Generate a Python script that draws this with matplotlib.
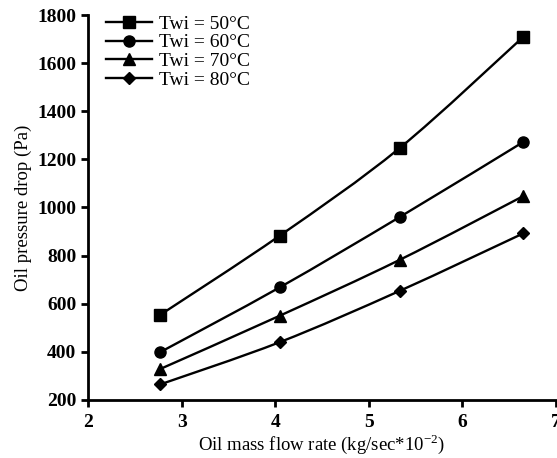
import numpy as np
import matplotlib.pyplot as plt
from matplotlib.path import Path
from matplotlib.patches import PathPatch

plt.rcParams['font.family'] = ['Liberation Serif', 'DejaVu Serif']

flow = [2.77, 4.05, 5.33, 6.65]
dp_50 = [553, 883, 1247, 1709]
dp_60 = [398, 668, 960, 1272]
dp_70 = [328, 550, 782, 1047]
dp_80 = [264, 440, 653, 892]

series = [('Twi = 50°C', dp_50, 's'),
          ('Twi = 60°C', dp_60, 'o'),
          ('Twi = 70°C', dp_70, '^'),
          ('Twi = 80°C', dp_80, 'D')]


def smooth_path(x, y):
    # Catmull-Rom segments written as cubic Bezier curves
    x = np.asarray(x, float)
    y = np.asarray(y, float)
    pts = np.column_stack([x, y])
    verts = [pts[0]]
    codes = [Path.MOVETO]
    n = len(pts)
    for i in range(n - 1):
        p0 = pts[i - 1] if i > 0 else pts[i]
        p1 = pts[i]
        p2 = pts[i + 1]
        p3 = pts[i + 2] if i + 2 < n else pts[i + 1]
        c1 = p1 + (p2 - p0) / 6.0
        c2 = p2 - (p3 - p1) / 6.0
        verts += [c1, c2, p2]
        codes += [Path.CURVE4] * 3
    return Path(verts, codes)


fig = plt.figure(figsize=(5.57, 4.58), dpi=100)
ax = fig.add_axes([0.158, 0.127, 0.84, 0.84])

for label, vals, mk in series:
    ax.add_patch(PathPatch(smooth_path(flow, vals), facecolor='none',
                           edgecolor='black', lw=1.7))
    ms = 6.5 if mk == 'D' else 8
    ax.plot(flow, vals, linestyle='none', marker=mk, color='black', ms=ms)
    # legend handle: line with marker
    ax.plot([], [], '-', marker=mk, color='black', lw=1.7, ms=ms, label=label)

ax.set_xlim(2, 7)
ax.set_ylim(200, 1800)
ax.set_xticks([2, 3, 4, 5, 6, 7])
ax.set_yticks(range(200, 1801, 200))
for s in ['top', 'right']:
    ax.spines[s].set_visible(False)
for s in ['left', 'bottom']:
    ax.spines[s].set_linewidth(2)
ax.tick_params(direction='out', width=2, length=5, labelsize=14)
ax.tick_params(axis='x', pad=5)
for t in ax.get_xticklabels() + ax.get_yticklabels():
    t.set_fontweight('bold')

ax.set_xlabel('Oil mass flow rate (kg/sec*10$^{\\mathregular{-2}}$)',
              fontsize=13.5, labelpad=1)
ax.set_ylabel('Oil pressure drop (Pa)', fontsize=13.5, labelpad=4)

ax.legend(loc='upper left', bbox_to_anchor=(0.0, 1.045), frameon=False,
          fontsize=14, handlelength=2.4, labelspacing=0.05,
          handletextpad=0.35)

fig.savefig('out.png', dpi=100)
